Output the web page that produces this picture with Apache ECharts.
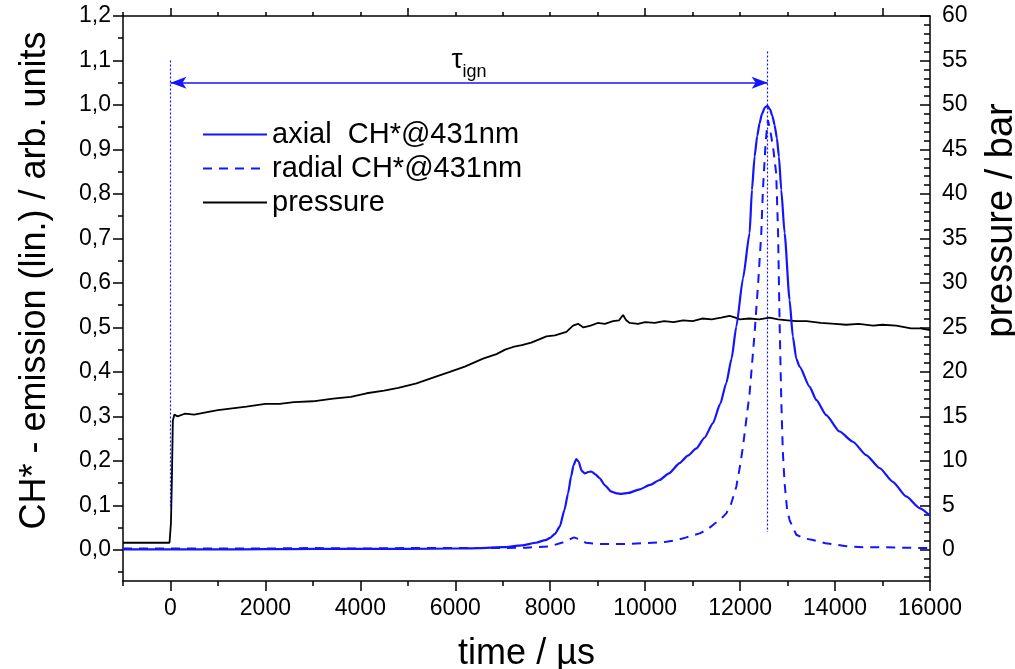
<!DOCTYPE html>
<html><head><meta charset="utf-8">
<script src="https://cdn.jsdelivr.net/npm/echarts@6/dist/echarts.min.js"></script>
<style>html,body{margin:0;padding:0;background:#fff}#c{width:1015px;height:669px}</style>
</head><body><div id="c"></div>
<script>
// ---- tick definitions ----
const xMajorTicks = [0, 2000, 4000, 6000, 8000, 10000, 12000, 14000, 16000];
const xMinorTicks = [-1000, 1000, 3000, 5000, 7000, 9000, 11000, 13000, 15000];
const xTopMajorTicks = [0, 5000, 10000, 15000];
const xTopMinorTicks = [-1000, 1000, 2000, 3000, 4000, 6000, 7000, 8000, 9000, 11000, 12000, 13000, 14000];
const leftTicks = [0, 0.1, 0.2, 0.3, 0.4, 0.5, 0.6, 0.7, 0.8, 0.9, 1.0, 1.1, 1.2];
const leftMinorTicks = [-0.05, 0.05, 0.15, 0.25, 0.35, 0.45, 0.55, 0.65, 0.75, 0.85, 0.95, 1.05, 1.15];
const rightTicks = [0, 5, 10, 15, 20, 25, 30, 35, 40, 45, 50, 55, 60];
const rightMinorTicks = [-3, -2, -1, 1, 2, 3, 4, 6, 7, 8, 9, 11, 12, 13, 14, 16, 17, 18, 19, 21, 22, 23, 24,
  26, 27, 28, 29, 31, 32, 33, 34, 36, 37, 38, 39, 41, 42, 43, 44, 46, 47, 48, 49, 51, 52, 53, 54, 56, 57, 58, 59];

// ---- series data: [time (µs), value] ----
const axial = [
  [-1000, 0.001], [0, 0.001], [1000, 0.001], [2000, 0.0015], [3000, 0.002], [4000, 0.002], [5000, 0.002],
  [6000, 0.003], [6500, 0.004], [7000, 0.006], [7400, 0.01], [7700, 0.016], [7900, 0.022], [8000, 0.027],
  [8100, 0.036], [8200, 0.052], [8300, 0.09], [8375, 0.127], [8440, 0.165], [8490, 0.19], [8550, 0.204],
  [8600, 0.198], [8660, 0.178], [8726, 0.172], [8800, 0.175], [8867, 0.176], [8950, 0.17], [9042, 0.161],
  [9150, 0.145], [9288, 0.131], [9400, 0.127], [9499, 0.126], [9650, 0.128], [9884, 0.136], [10100, 0.146],
  [10305, 0.157], [10500, 0.172], [10726, 0.195], [10900, 0.212], [11078, 0.228], [11250, 0.252],
  [11428, 0.285], [11580, 0.328], [11709, 0.375], [11820, 0.43], [11920, 0.502], [12060, 0.61],
  [12200, 0.712], [12249, 0.809], [12305, 0.884], [12360, 0.93], [12410, 0.959], [12460, 0.98],
  [12520, 0.994], [12573, 0.998], [12630, 0.99], [12680, 0.975], [12726, 0.955], [12775, 0.925],
  [12817, 0.884], [12867, 0.809], [12937, 0.712], [13042, 0.562], [13110, 0.48], [13183, 0.43],
  [13253, 0.412], [13463, 0.367], [13604, 0.337], [13814, 0.303], [14095, 0.266], [14375, 0.243],
  [14656, 0.213], [14937, 0.184], [15217, 0.153], [15499, 0.12], [15779, 0.094], [16000, 0.077]
];
const radial = [
  [-1000, 0.003], [0, 0.003], [1000, 0.003], [2000, 0.003], [3000, 0.004], [4000, 0.003], [5000, 0.004],
  [6000, 0.004], [7000, 0.004], [7500, 0.005], [8000, 0.008], [8300, 0.018], [8500, 0.028], [8600, 0.024],
  [8750, 0.016], [9000, 0.013], [9500, 0.013], [10000, 0.015], [10446, 0.018], [10700, 0.023],
  [10867, 0.028], [11147, 0.037], [11300, 0.045], [11428, 0.056], [11600, 0.07], [11709, 0.082],
  [11800, 0.1], [11920, 0.142], [12000, 0.19], [12060, 0.232], [12200, 0.352], [12305, 0.487],
  [12380, 0.6], [12446, 0.712], [12480, 0.809], [12540, 0.92], [12586, 0.966], [12640, 0.94],
  [12700, 0.9], [12760, 0.846], [12800, 0.712], [12830, 0.52], [12867, 0.337], [12900, 0.22],
  [12937, 0.15], [12990, 0.09], [13042, 0.067], [13183, 0.034], [13350, 0.026], [13533, 0.022],
  [13800, 0.015], [14235, 0.008], [14600, 0.006], [14937, 0.006], [15400, 0.005], [16000, 0.004]
];
const pressure = [
  [-1000, 0.8], [-20, 0.8], [10, 3.0], [30, 8.0], [50, 14.5], [80, 15.2], [150, 15.0], [300, 15.3],
  [500, 15.2], [800, 15.5], [1000, 15.7], [1300, 15.9], [1600, 16.1], [2000, 16.4], [2300, 16.4],
  [2600, 16.6], [3000, 16.7], [3428, 17.0], [3800, 17.2], [4130, 17.6], [4500, 17.9], [4800, 18.2],
  [5183, 18.7], [5500, 19.3], [5884, 20.0], [6200, 20.6], [6585, 21.5], [6867, 22.0], [7050, 22.5],
  [7217, 22.8], [7400, 23.0], [7600, 23.3], [7920, 24.0], [8100, 24.1], [8341, 24.5], [8480, 25.2],
  [8586, 25.4], [8700, 25.0], [8850, 25.2], [9000, 25.5], [9150, 25.4], [9323, 25.7], [9450, 25.8],
  [9534, 26.4], [9600, 25.8], [9674, 25.5], [9850, 25.4], [10000, 25.6], [10200, 25.5], [10400, 25.7],
  [10600, 25.6], [10800, 25.8], [11000, 25.7], [11200, 26.0], [11400, 25.9], [11600, 26.1],
  [11779, 26.3], [11900, 26.1], [11989, 25.9], [12200, 26.0], [12400, 25.9], [12621, 26.1],
  [12800, 25.9], [13000, 25.8], [13183, 25.7], [13400, 25.7], [13700, 25.5], [14000, 25.4],
  [14235, 25.3], [14500, 25.4], [14800, 25.2], [15000, 25.3], [15288, 25.2], [15600, 24.9],
  [15800, 24.9], [16000, 24.7]
];

// ---- annotation (ignition delay) ----
const tauStart = 0;
const tauEnd = 12580;
const tauArrowLevel = 1.05;
const tauLineLeft = [1.1, 0.094];
const tauLineRight = [1.12, 0.04];

const FONT = 'Liberation Sans, Arial, sans-serif';
const BLUE = '#1414ff';
const tickStyle = { color: '#000', width: 1.5 };
const fmtComma = v => v.toFixed(1).replace('.', ',');
const fmtPlain = v => String(v);
const dotted = { color: BLUE, width: 1.2, type: [2, 2] };

const chart = echarts.init(document.getElementById('c'));
chart.setOption({
  animation: false,
  backgroundColor: '#fff',
  grid: { left: 123, right: 85, top: 16, bottom: 88, containLabel: false, outerBoundsMode: 'none' },
  legend: {
    orient: 'vertical', left: 197, top: 115, itemWidth: 64, itemHeight: 14, itemGap: 5,
    itemStyle: { opacity: 0 },
    textStyle: { fontFamily: FONT, fontSize: 29, color: '#000' },
    data: ['axial  CH*@431nm', 'radial CH*@431nm', 'pressure']
  },
  xAxis: [
    { type: 'value', position: 'bottom', min: -1000, max: 16000,
      axisLine: { show: true, onZero: false, lineStyle: tickStyle },
      axisTick: { show: true, length: 10, lineStyle: tickStyle, customValues: xMajorTicks },
      axisLabel: { customValues: xMajorTicks, formatter: fmtPlain, margin: 16, fontFamily: FONT, fontSize: 23, color: '#000' },
      splitLine: { show: false },
      name: 'time / µs', nameLocation: 'middle', nameGap: 55,
      nameTextStyle: { fontFamily: FONT, fontSize: 36, color: '#000' } },
    { type: 'value', position: 'bottom', min: -1000, max: 16000,
      axisLine: { show: false, onZero: false }, axisLabel: { show: false }, splitLine: { show: false },
      axisTick: { show: true, length: 5, lineStyle: tickStyle, customValues: xMinorTicks } },
    { type: 'value', position: 'top', min: -1000, max: 16000,
      axisLine: { show: true, onZero: false, lineStyle: tickStyle }, axisLabel: { show: false }, splitLine: { show: false },
      axisTick: { show: true, length: 8, lineStyle: tickStyle, customValues: xTopMajorTicks } },
    { type: 'value', position: 'top', min: -1000, max: 16000,
      axisLine: { show: false, onZero: false }, axisLabel: { show: false }, splitLine: { show: false },
      axisTick: { show: true, length: 4, lineStyle: tickStyle, customValues: xTopMinorTicks } }
  ],
  yAxis: [
    { type: 'value', position: 'left', min: -0.07, max: 1.2,
      axisLine: { show: true, onZero: false, lineStyle: tickStyle },
      axisTick: { show: true, length: 10, lineStyle: tickStyle, customValues: leftTicks },
      axisLabel: { customValues: leftTicks, formatter: fmtComma, margin: 12, fontFamily: FONT, fontSize: 23, color: '#000' },
      splitLine: { show: false },
      name: 'CH* - emission (lin.) / arb. units', nameLocation: 'middle', nameGap: 70,
      nameTextStyle: { fontFamily: FONT, fontSize: 36, color: '#000', padding: [0, 0, 0, 36] } },
    { type: 'value', position: 'right', min: -3.5, max: 60,
      axisLine: { show: true, onZero: false, lineStyle: tickStyle },
      axisTick: { show: true, inside: true, length: 10, lineStyle: tickStyle, customValues: rightTicks },
      axisLabel: { customValues: rightTicks, formatter: fmtPlain, margin: 12, fontFamily: FONT, fontSize: 23, color: '#000' },
      splitLine: { show: false },
      name: 'pressure / bar', nameLocation: 'middle', nameGap: 53,
      nameTextStyle: { fontFamily: FONT, fontSize: 38, color: '#000', padding: [0, 0, 0, 156] } },
    { type: 'value', position: 'left', min: -0.07, max: 1.2,
      axisLine: { show: false, onZero: false }, axisLabel: { show: false }, splitLine: { show: false },
      axisTick: { show: true, length: 5, lineStyle: tickStyle, customValues: leftMinorTicks } },
    { type: 'value', position: 'right', min: -3.5, max: 60,
      axisLine: { show: false, onZero: false }, axisLabel: { show: false }, splitLine: { show: false },
      axisTick: { show: true, inside: true, length: 6, lineStyle: tickStyle, customValues: rightMinorTicks } }
  ],
  series: [
    { name: 'axial  CH*@431nm', type: 'line', xAxisIndex: 0, yAxisIndex: 0, data: axial,
      symbol: 'none', smooth: 0.2, smoothMonotone: 'x', color: BLUE, lineStyle: { color: BLUE, width: 2.2 }, z: 3,
      markLine: {
        silent: true, symbol: ['none', 'none'], animation: false,
        lineStyle: dotted,
        label: { show: false },
        data: [
          [{ coord: [tauStart, tauLineLeft[0]], lineStyle: dotted }, { coord: [tauStart, tauLineLeft[1]] }],
          [{ coord: [tauEnd, tauLineRight[0]], lineStyle: dotted }, { coord: [tauEnd, tauLineRight[1]] }],
          [{ coord: [tauStart, tauArrowLevel], symbol: 'arrow', symbolSize: [9, 16],
             lineStyle: { color: BLUE, type: 'solid', width: 1.5 },
             label: { show: true, position: 'insideMiddleTop', distance: 2, formatter: '{t|τ}{s|ign}',
               rich: { t: { fontFamily: FONT, fontSize: 28, color: '#000', verticalAlign: 'top', lineHeight: 34 },
                       s: { fontFamily: FONT, fontSize: 18, color: '#000', verticalAlign: 'bottom', lineHeight: 34 } } } },
           { coord: [tauEnd, tauArrowLevel], symbol: 'arrow', symbolSize: [9, 16] }]
        ]
      } },
    { name: 'radial CH*@431nm', type: 'line', xAxisIndex: 0, yAxisIndex: 0, data: radial,
      symbol: 'none', color: BLUE, lineStyle: { color: BLUE, width: 2, type: [9, 7] }, z: 3 },
    { name: 'pressure', type: 'line', xAxisIndex: 0, yAxisIndex: 1, data: pressure,
      symbol: 'none', color: '#000', lineStyle: { color: '#000', width: 1.8 }, z: 2 }
  ]
});
</script></body></html>
